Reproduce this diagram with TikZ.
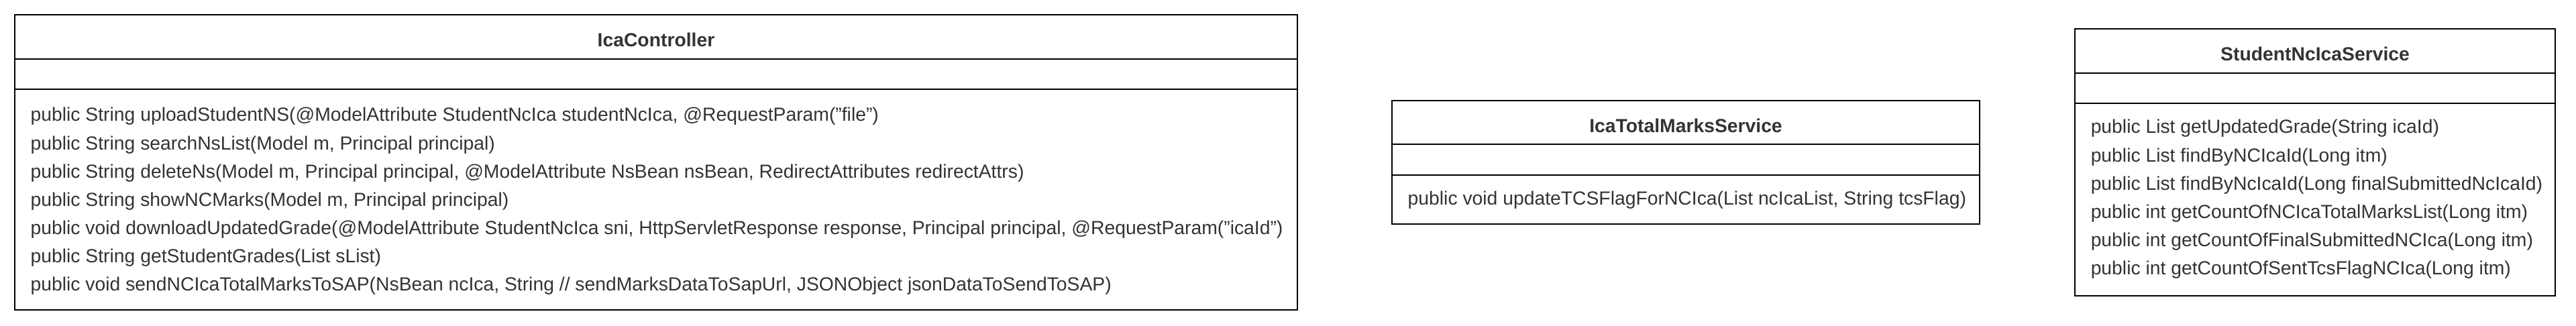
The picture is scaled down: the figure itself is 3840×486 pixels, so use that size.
\documentclass[tikz,border=0pt]{standalone}
\usepackage{fontspec}
\setmainfont{Liberation Sans}
\usepackage{tikz}
\tikzset{
  classbox/.style={draw=black, line width=0.8pt},
  classtitle/.style={anchor=base, inner sep=0, text=black!80,
    font=\bfseries\fontsize{8.05}{9}\selectfont},
  member/.style={anchor=base west, inner sep=0, text=black!80,
    font=\fontsize{8.05}{9}\selectfont},
}

\begin{document}
\begin{tikzpicture}[x=0.01cm, y=-0.01cm]
  \useasboundingbox (0, 0) rectangle (3840, 486);

  % IcaController
  \begin{scope}
    \draw[classbox] (22, 22) rectangle (1934, 462);
    \draw[classbox] (22, 88) -- (1934, 88);
    \draw[classbox] (22, 133) -- (1934, 133);
    \node[classtitle] at (978, 70) (ctrl) {IcaController};
    \foreach \m [count=\i] in {
      {public String uploadStudentNS(@ModelAttribute StudentNcIca studentNcIca, @RequestParam("file")},
      {public String searchNsList(Model m, Principal principal)},
      {public String deleteNs(Model m, Principal principal, @ModelAttribute NsBean nsBean, RedirectAttributes redirectAttrs)},
      {public String showNCMarks(Model m, Principal principal)},
      {public void downloadUpdatedGrade(@ModelAttribute StudentNcIca sni, HttpServletResponse response, Principal principal, @RequestParam("icaId")},
      {public String getStudentGrades(List sList)},
      {public void sendNCIcaTotalMarksToSAP(NsBean ncIca, String // sendMarksDataToSapUrl, JSONObject jsonDataToSendToSAP)}} {
      \node[member] at (45, {181+42.1*(\i-1)}) (ctrl-\i) {\m};
    }
  \end{scope}

  % IcaTotalMarksService
  \begin{scope}
    \draw[classbox] (2075, 150) rectangle (2951, 334);
    \draw[classbox] (2075, 215) -- (2951, 215);
    \draw[classbox] (2075, 261) -- (2951, 261);
    \node[classtitle] at (2513, 198) (total) {IcaTotalMarksService};
    \node[member] at (2098, 306) (total-1) {public void updateTCSFlagForNCIca(List ncIcaList, String tcsFlag)};
  \end{scope}

  % StudentNcIcaService
  \begin{scope}
    \draw[classbox] (3093, 43) rectangle (3809, 441);
    \draw[classbox] (3093, 109) -- (3809, 109);
    \draw[classbox] (3093, 154) -- (3809, 154);
    \node[classtitle] at (3451, 91) (student) {StudentNcIcaService};
    \foreach \m [count=\i] in {
      {public List getUpdatedGrade(String icaId)},
      {public List findByNCIcaId(Long itm)},
      {public List findByNcIcaId(Long finalSubmittedNcIcaId)},
      {public int getCountOfNCIcaTotalMarksList(Long itm)},
      {public int getCountOfFinalSubmittedNCIca(Long itm)},
      {public int getCountOfSentTcsFlagNCIca(Long itm)}} {
      \node[member] at (3116, {199+42.2*(\i-1)}) (student-\i) {\m};
    }
  \end{scope}
\end{tikzpicture}
\end{document}
